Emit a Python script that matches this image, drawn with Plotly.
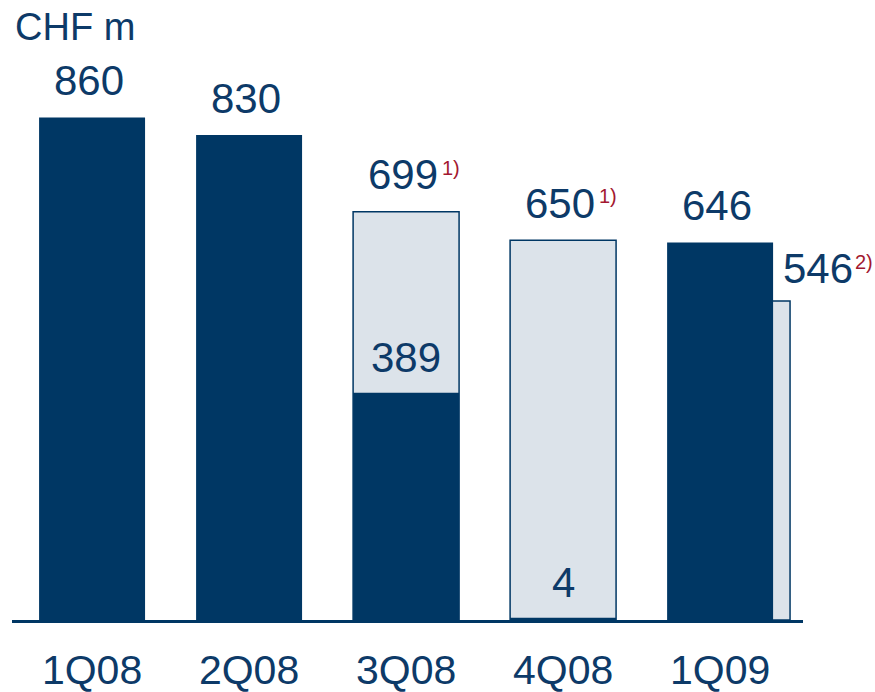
import plotly.graph_objects as go

categories = ["1Q08", "2Q08", "3Q08", "4Q08", "1Q09"]
dark_values = [860, 830, 389, 4, 646]
light_cats = ["3Q08", "4Q08", "1Q09"]
light_values = [699, 650, 546]
top_labels = ["860", "830", "699", "650", "646"]
top_values = [860, 830, 699, 650, 646]
top_notes = ["", "", "1)", "1)", ""]
inner_cats = ["3Q08", "4Q08"]
inner_values = [389, 4]
adj_label = "546"
adj_note = "2)"

NAVY = "#003764"
TEXT = "#0d3a68"
LIGHT = "#dce3ea"
RED = "#a3182f"
FONT = "Liberation Sans, Arial, sans-serif"

idx = {c: i for i, c in enumerate(categories)}
light_x = [idx[c] + (0.108 if c == "1Q09" else 0) for c in light_cats]
W = 0.675

fig = go.Figure()
fig.add_trace(go.Bar(x=light_x, y=light_values, width=W,
                     marker=dict(color=LIGHT, line=dict(color=NAVY, width=1.5)),
                     hoverinfo="skip"))
fig.add_trace(go.Bar(x=list(range(len(categories))), y=dark_values, width=W,
                     marker=dict(color=NAVY, line=dict(width=0)), hoverinfo="skip"))

ann = []
for i, (lab, v, note) in enumerate(zip(top_labels, top_values, top_notes)):
    ann.append(dict(x=i, y=v, text=lab, showarrow=False, yanchor="middle",
                    yshift=37, xshift=-3, font=dict(size=42, color=TEXT, family=FONT)))
    if note:
        ann.append(dict(x=i, y=v, text=note, showarrow=False, yanchor="middle",
                        yshift=44, xshift=45, font=dict(size=20, color=RED, family=FONT)))
for c, v in zip(inner_cats, inner_values):
    ann.append(dict(x=idx[c], y=v, text=str(v), showarrow=False, yanchor="middle",
                    yshift=35, font=dict(size=42, color=TEXT, family=FONT)))
ann.append(dict(x=idx["1Q09"], y=light_values[-1], text=adj_label, showarrow=False,
                yanchor="middle", yshift=33, xshift=98,
                font=dict(size=42, color=TEXT, family=FONT)))
ann.append(dict(x=idx["1Q09"], y=light_values[-1], text=adj_note, showarrow=False,
                yanchor="middle", yshift=39, xshift=144,
                font=dict(size=20, color=RED, family=FONT)))
ann.append(dict(xref="paper", yref="paper", x=0, y=1, text="CHF m", showarrow=False,
                xanchor="left", yanchor="middle", xshift=1, yshift=-7,
                font=dict(size=38, color=TEXT, family=FONT)))

fig.update_layout(
    width=875, height=692,
    margin=dict(l=12, r=72, t=20, b=72, autoexpand=False),
    paper_bgcolor="white", plot_bgcolor="white",
    barmode="overlay", showlegend=False,
    annotations=ann,
    xaxis=dict(range=[-0.51, 4.528], tickvals=list(range(len(categories))),
               ticktext=categories, showgrid=False, zeroline=False,
               showline=True, linecolor=NAVY, linewidth=3,
               ticks="outside", ticklen=12, tickcolor="rgba(0,0,0,0)",
               tickfont=dict(size=41, color=TEXT, family=FONT)),
    yaxis=dict(range=[0, 1027], visible=False),
)

fig.write_html("out.html")
